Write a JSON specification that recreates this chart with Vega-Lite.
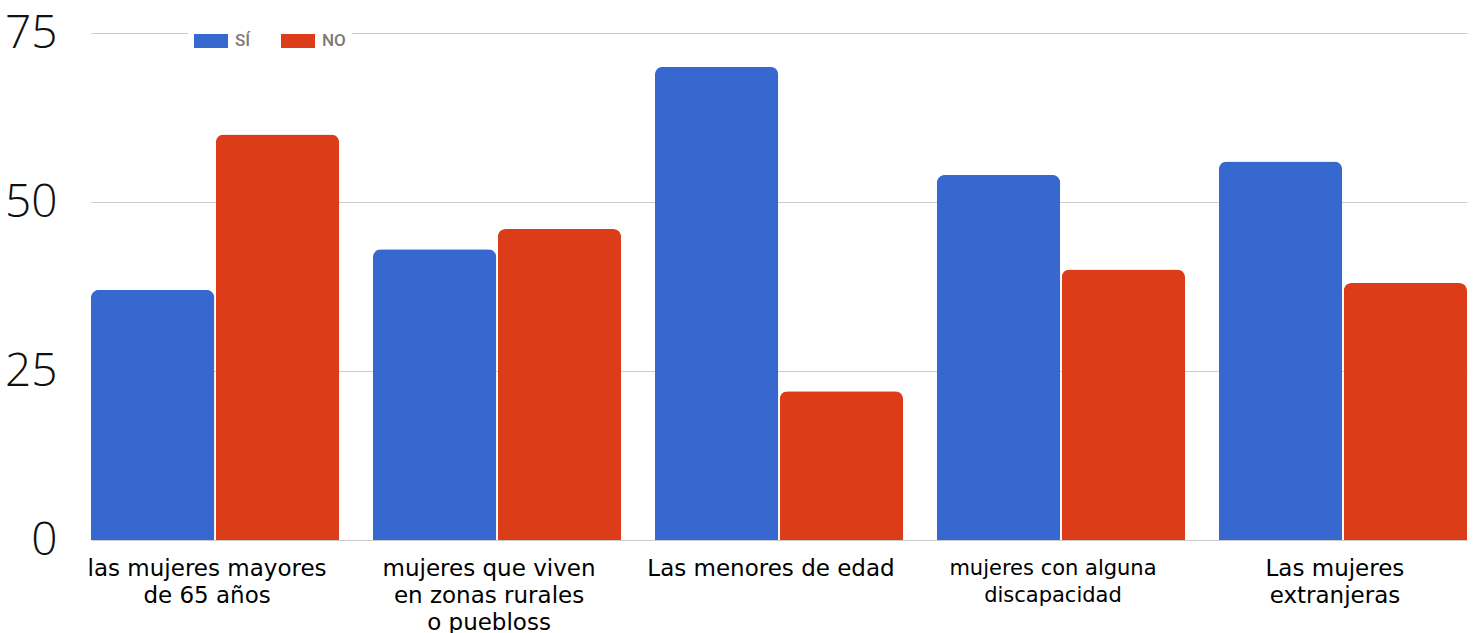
{
  "$schema": "https://vega.github.io/schema/vega-lite/v6.json",
  "width": 1376,
  "height": 507,
  "autosize": "none",
  "padding": {"left": 91, "top": 33, "right": 10, "bottom": 93},
  "background": "white",
  "data": {
    "values": [
      {"grupo": "las mujeres mayores\nde 65 años", "respuesta": "SÍ", "valor": 37},
      {"grupo": "las mujeres mayores\nde 65 años", "respuesta": "NO", "valor": 60},
      {"grupo": "mujeres que viven\nen zonas rurales\no puebloss", "respuesta": "SÍ", "valor": 43},
      {"grupo": "mujeres que viven\nen zonas rurales\no puebloss", "respuesta": "NO", "valor": 46},
      {"grupo": "Las menores de edad", "respuesta": "SÍ", "valor": 70},
      {"grupo": "Las menores de edad", "respuesta": "NO", "valor": 22},
      {"grupo": "mujeres con alguna\ndiscapacidad", "respuesta": "SÍ", "valor": 54},
      {"grupo": "mujeres con alguna\ndiscapacidad", "respuesta": "NO", "valor": 40},
      {"grupo": "Las mujeres\nextranjeras", "respuesta": "SÍ", "valor": 56},
      {"grupo": "Las mujeres\nextranjeras", "respuesta": "NO", "valor": 38}
    ]
  },
  "mark": {"type": "bar", "cornerRadiusTopLeft": 8, "cornerRadiusTopRight": 8},
  "encoding": {
    "x": {
      "field": "grupo",
      "type": "nominal",
      "sort": null,
      "scale": {"paddingInner": 0.12, "paddingOuter": 0},
      "axis": {
        "title": null,
        "labelAngle": 0,
        "domain": false,
        "ticks": false,
        "labelExpr": "split(datum.value, '\\n')",
        "labelFont": "DejaVu Sans",
        "labelFontSize": {"condition": {"test": "indexof(datum.value, 'discapacidad') >= 0", "value": 21}, "value": 23},
        "labelLineHeight": 27,
        "labelColor": "#000000",
        "labelPadding": 17,
        "labelOffset": -8,
        "labelLimit": 300
      }
    },
    "xOffset": {
      "field": "respuesta",
      "type": "nominal",
      "sort": ["SÍ", "NO"],
      "scale": {"paddingInner": 0.012}
    },
    "y": {
      "field": "valor",
      "type": "quantitative",
      "scale": {"domain": [0, 75], "nice": false},
      "axis": {
        "title": null,
        "values": [0, 25, 50, 75],
        "domain": false,
        "ticks": false,
        "labelFont": "Open Sans",
        "labelFontWeight": 300,
        "labelFontSize": 46,
        "labelColor": "#111111",
        "labelPadding": 34,
        "gridColor": "#cccccc",
        "gridWidth": 1
      }
    },
    "color": {
      "field": "respuesta",
      "type": "nominal",
      "sort": ["SÍ", "NO"],
      "scale": {"domain": ["SÍ", "NO"], "range": ["#3668cf", "#dc3c17"]},
      "legend": {
        "orient": "none",
        "legendX": 97,
        "legendY": -15,
        "direction": "horizontal",
        "title": null,
        "fillColor": "white",
        "padding": 6,
        "symbolType": "M-1,-0.41H1V0.41H-1Z",
        "symbolSize": 1156,
        "symbolStrokeWidth": 0,
        "labelFont": "Roboto",
        "labelFontSize": 17,
        "labelFontWeight": 500,
        "labelColor": "#7a7a7a",
        "labelOffset": 7,
        "columnPadding": 30
      }
    }
  },
  "config": {"view": {"stroke": null}}
}
